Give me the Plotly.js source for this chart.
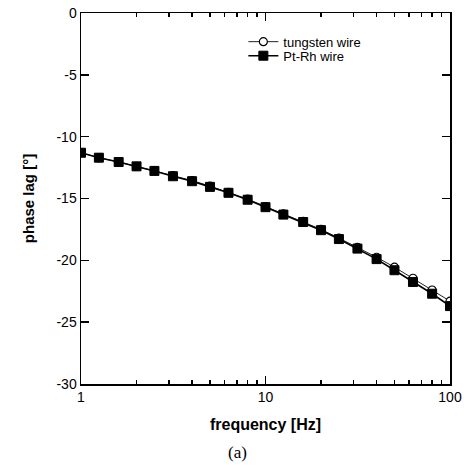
<!DOCTYPE html>
<html>
<head>
<meta charset="utf-8">
<script src="https://cdn.plot.ly/plotly-3.0.1.min.js"></script>
<style>html,body{margin:0;padding:0;background:#fff;}#chart{width:469px;height:473px;}</style>
</head>
<body>
<div id="chart"></div>
<script>
const frequency = [1, 1.25, 1.6, 2, 2.5, 3.15, 4, 5, 6.3, 8, 10, 12.5, 16, 20, 25, 31.5, 40, 50, 63, 80, 100];
const tungsten = [-11.3, -11.7, -12.05, -12.4, -12.75, -13.15, -13.55, -14.0, -14.5, -15.05, -15.65, -16.25, -16.85, -17.5, -18.2, -18.95, -19.75, -20.55, -21.45, -22.4, -23.3];
const ptrh = [-11.3, -11.7, -12.05, -12.4, -12.77, -13.2, -13.6, -14.06, -14.54, -15.1, -15.7, -16.3, -16.9, -17.56, -18.28, -19.05, -19.9, -20.8, -21.75, -22.7, -23.7];
const seriesNames = ['tungsten wire', 'Pt-Rh wire'];
const yTickVals = [0, -5, -10, -15, -20, -25, -30];
const yTickText = ['0', '-5', '-10', '-15', '-20', '-25', '-30'];
const xTickVals = [1, 10, 100];
const xTickText = ['1', '10', '100'];
const xMinorTickVals = [2, 3, 4, 5, 6, 7, 8, 9, 20, 30, 40, 50, 60, 70, 80, 90];

const font = 'Liberation Sans, Arial, Helvetica, sans-serif';

const traces = [
  {
    x: frequency, y: tungsten, name: seriesNames[0], type: 'scatter', mode: 'lines+markers',
    legend: 'legend',
    line: {color: '#222', width: 1},
    marker: {symbol: 'circle', size: 8, color: '#fff', line: {color: '#000', width: 1.2}}
  },
  {
    x: frequency, y: ptrh, name: seriesNames[1], type: 'scatter', mode: 'lines+markers',
    legend: 'legend2',
    line: {color: '#000', width: 1.6},
    marker: {symbol: 'square', size: 9, color: '#000', line: {color: '#000', width: 1}}
  }
];

const legendStyle = {
  xanchor: 'left', yanchor: 'middle',
  bgcolor: 'rgba(0,0,0,0)', font: {family: font, size: 13, color: '#000'},
  itemwidth: 30
};

const layout = {
  width: 469, height: 473,
  margin: {l: 81, r: 19, t: 13, b: 89},
  paper_bgcolor: '#fff', plot_bgcolor: '#fff',
  font: {family: font, color: '#000', size: 13},
  showlegend: true,
  legend: Object.assign({x: 0.44, y: 0.9226}, legendStyle),
  legend2: Object.assign({x: 0.44, y: 0.8848}, legendStyle),
  xaxis: {
    type: 'log', range: [0, 2],
    tickmode: 'array', tickvals: xTickVals, ticktext: xTickText,
    ticks: 'inside', ticklen: 8, tickwidth: 1.5, tickcolor: '#000',
    minor: {tickmode: 'array', tickvals: xMinorTickVals, ticks: 'inside', ticklen: 4, tickwidth: 1.3, tickcolor: '#000'},
    showline: true, linecolor: '#000', linewidth: 1.5, mirror: 'allticks',
    showgrid: false, zeroline: false,
    tickfont: {family: font, size: 14},
    title: {text: 'frequency [Hz]', font: {family: font, size: 16, weight: 'bold'}, standoff: 14}
  },
  yaxis: {
    range: [-30, 0],
    tickmode: 'array', tickvals: yTickVals, ticktext: yTickText,
    ticks: 'inside', ticklen: 8, tickwidth: 1.5, tickcolor: '#000',
    showline: true, linecolor: '#000', linewidth: 1.5, mirror: 'allticks',
    showgrid: false, zeroline: false,
    tickfont: {family: font, size: 14},
    title: {text: 'phase lag [°]', font: {family: font, size: 15, weight: 'bold'}, standoff: 18}
  },
  annotations: [
    {text: '(a)', xref: 'paper', yref: 'paper', x: 0.423, y: -0.184, xanchor: 'center', yanchor: 'middle',
     showarrow: false, font: {family: 'Liberation Serif, DejaVu Serif, serif', size: 17, color: '#000'}}
  ]
};

Plotly.newPlot('chart', traces, layout, {displayModeBar: false, staticPlot: true});
</script>
</body>
</html>
